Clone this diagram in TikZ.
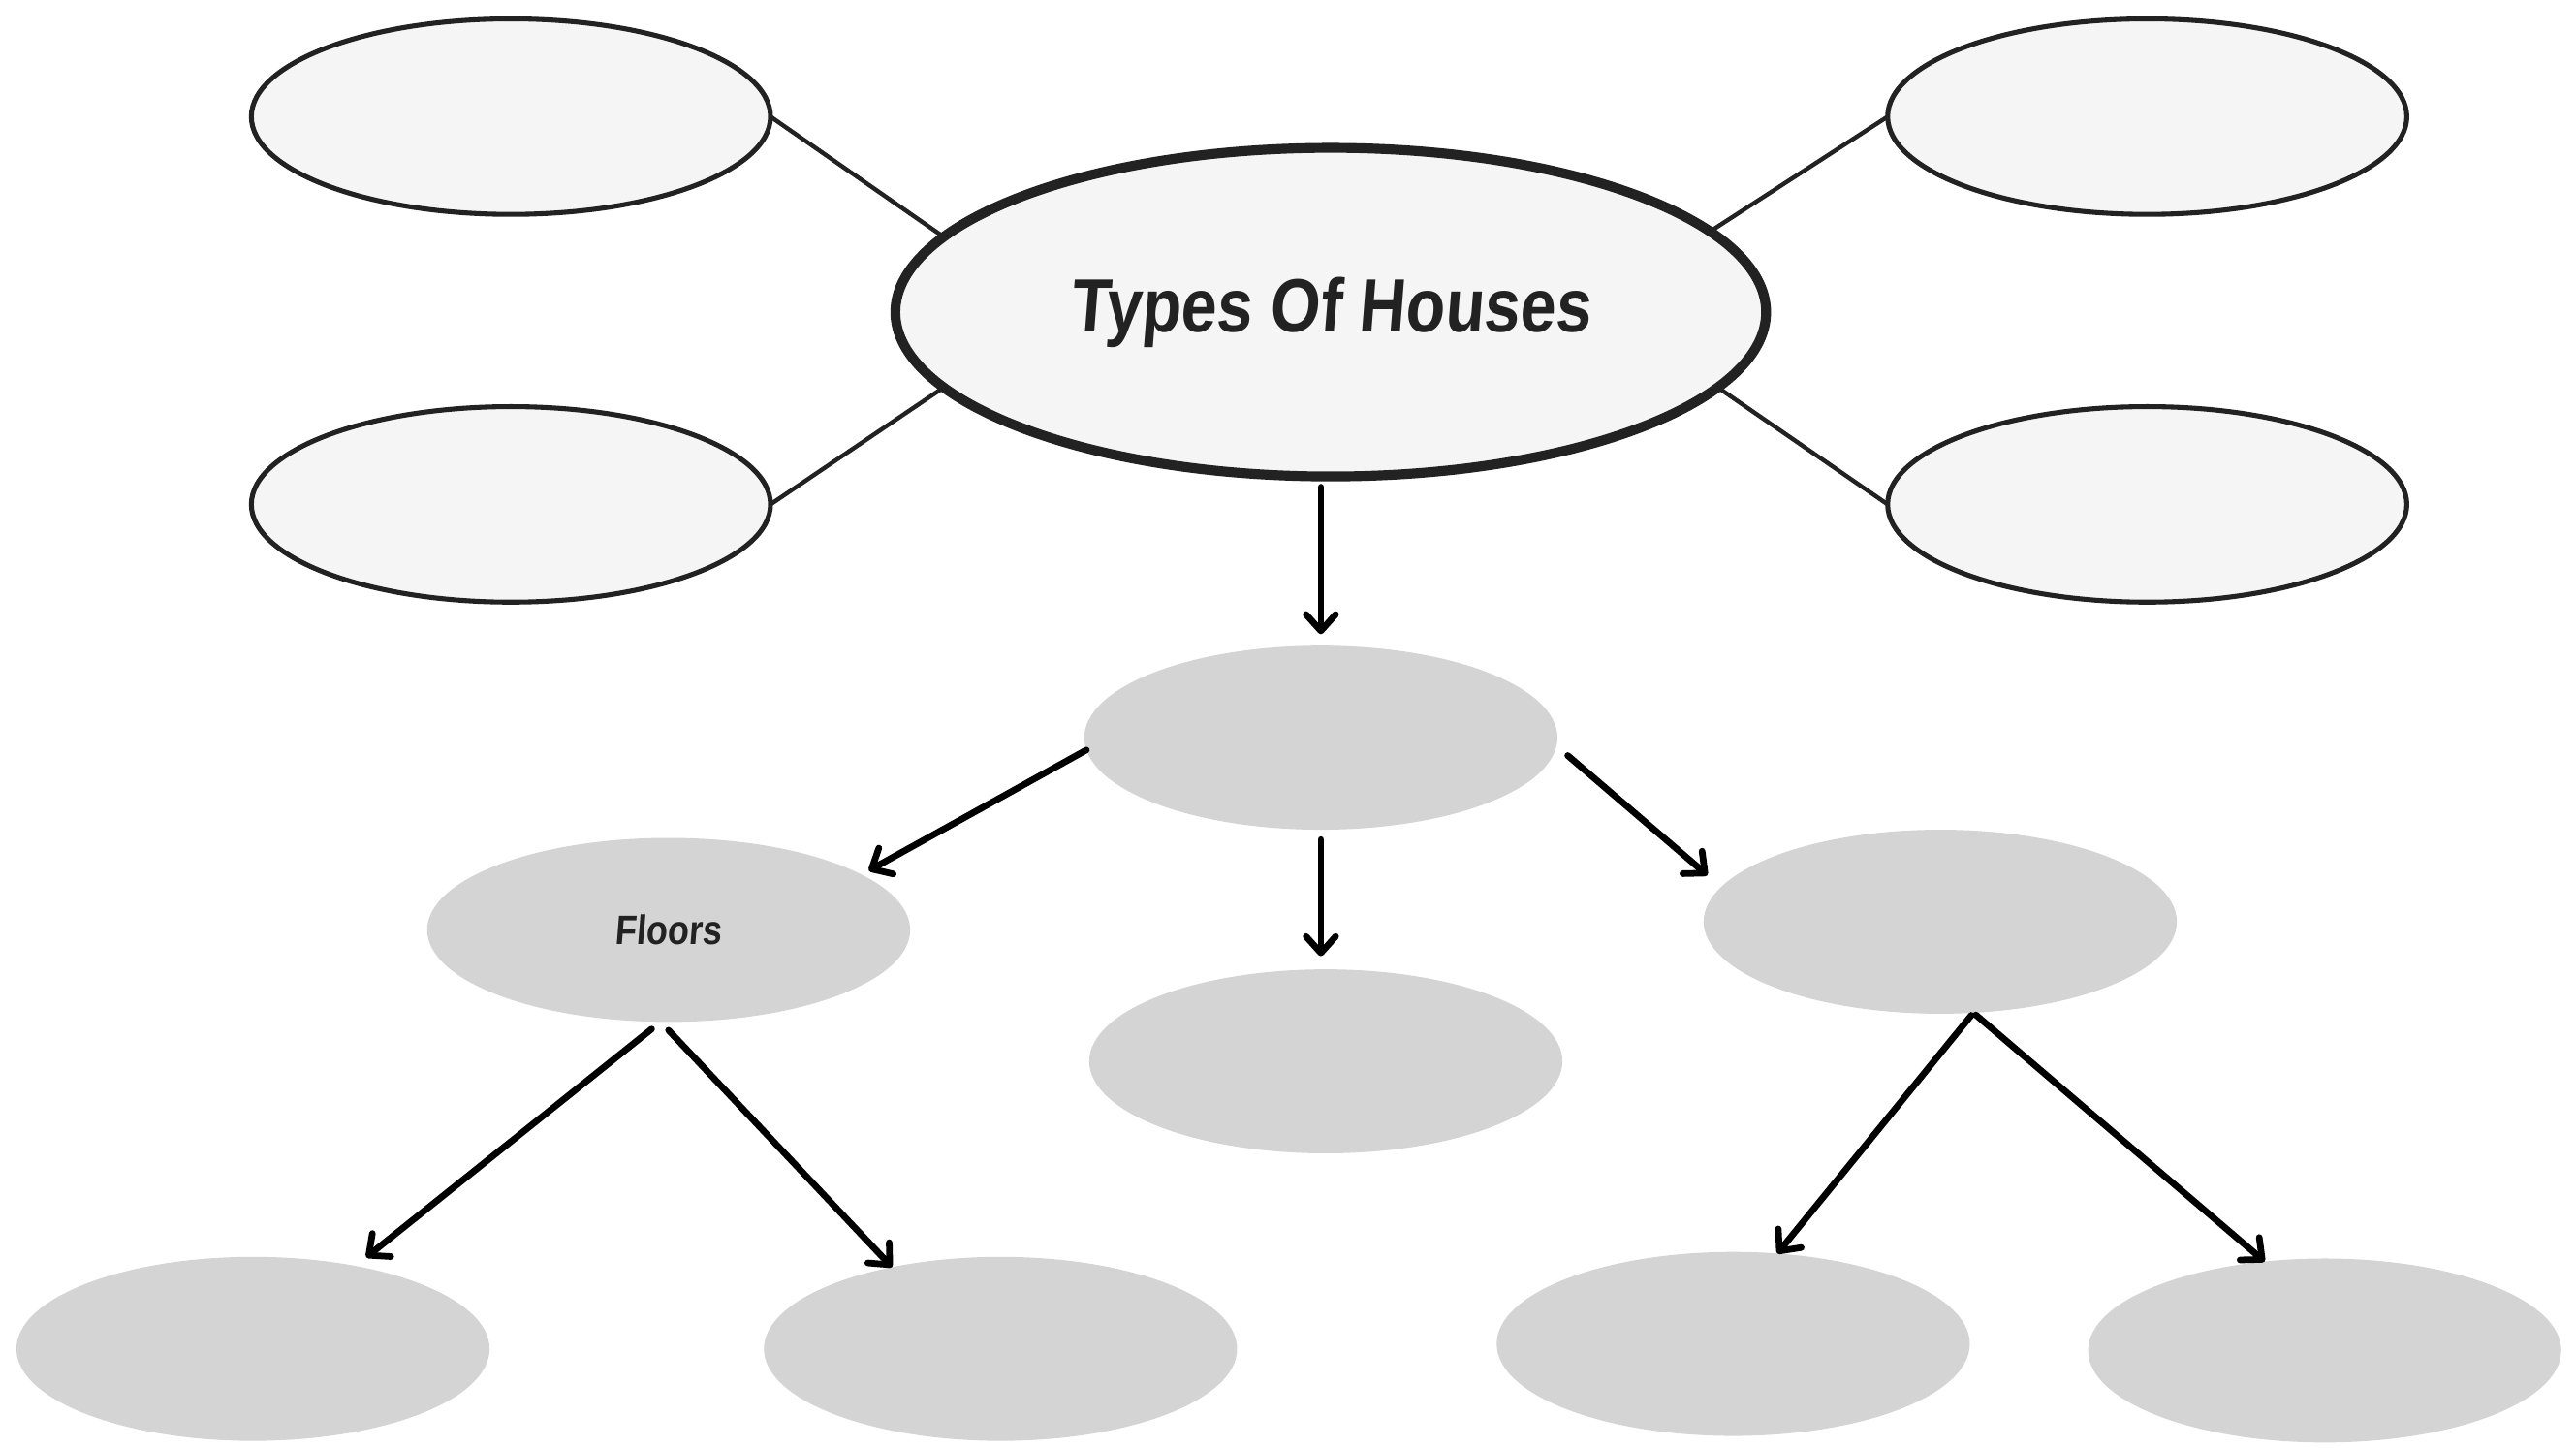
\documentclass[tikz,border=0pt]{standalone}
\usepackage{fontspec}
\newfontfamily\handfont[FakeStretch=0.85,FakeSlant=0.08]{Liberation Sans}
\usetikzlibrary{arrows.meta,shapes.geometric}
\definecolor{inkc}{HTML}{222222}
\definecolor{paleFill}{HTML}{F5F5F5}
\definecolor{greyFill}{HTML}{D4D4D4}
\begin{document}
\begin{tikzpicture}[x=0.5pt,y=-0.5pt,
  hub/.style={ellipse, draw=inkc, line width=3pt, fill=paleFill,
    minimum width=265pt, minimum height=100pt, inner sep=0pt, outer sep=0pt,
    font=\handfont\bfseries\fontsize{23}{26}\selectfont, text=inkc},
  satellite/.style={ellipse, draw=inkc, line width=1.5pt, fill=paleFill,
    minimum width=158pt, minimum height=59.5pt, inner sep=0pt, outer sep=0pt},
  bubble/.style={ellipse, fill=greyFill, minimum width=144pt, minimum height=56pt,
    inner sep=0pt, outer sep=0pt, text=inkc,
    font=\handfont\bfseries\fontsize{12.5}{14}\selectfont},
  link/.style={draw=inkc, line width=1.3pt},
  arr/.style={draw=black, line width=2pt, line cap=round,
    -{Straight Barb[length=5pt,width=9pt,round]}}
]
\useasboundingbox (0,0) rectangle (1568,880.8);

% top cluster
\node[satellite] (tl) at (311,71) {};
\node[satellite] (bl) at (311,307) {};
\node[satellite] (tr) at (1307,71) {};
\node[satellite] (br) at (1307,307) {};
\node[hub] (main) at (810,190) {Types Of Houses};

\draw[link] (tl.east) -- (main.169);
\draw[link] (bl.east) -- (main.191);
\draw[link] (tr.west) -- (main.12);
\draw[link] (br.west) -- (main.349);

% grey bubbles
\node[bubble] (g1) at (804,449) {};
\node[bubble, minimum width=147pt] (floors) at (407,566) {Floors};
\node[bubble] (g3) at (807,646) {};
\node[bubble] (g4) at (1181,561) {};
\node[bubble] (b1) at (154,821) {};
\node[bubble] (b2) at (609,821) {};
\node[bubble] (b3) at (1055,818) {};
\node[bubble] (b4) at (1415,822) {};

% arrows
\draw[arr, shorten <=3.25pt, shorten >=3.5pt] (main.south -| g1.north) -- (g1.north);
\draw[arr, shorten >=2.5pt] (g1.183) -- (floors.16);
\draw[arr, shorten <=3pt, shorten >=4pt] (g1.south) -- (g1.south |- g3.north);
\draw[arr, shorten <=4.5pt, shorten >=5.5pt] (g1.-2) -- (g4.171);
\draw[arr, shorten <=3.5pt, shorten >=4.2pt] (floors.-95) -- (b1.39);
\draw[arr, shorten <=3.5pt] (floors.-95) -- (b2.143);
\draw[arr, shorten <=1pt] (g4.-70) -- (b3.64);
\draw[arr, shorten <=1pt] (g4.-70) -- (b4.124);
\end{tikzpicture}
\end{document}
